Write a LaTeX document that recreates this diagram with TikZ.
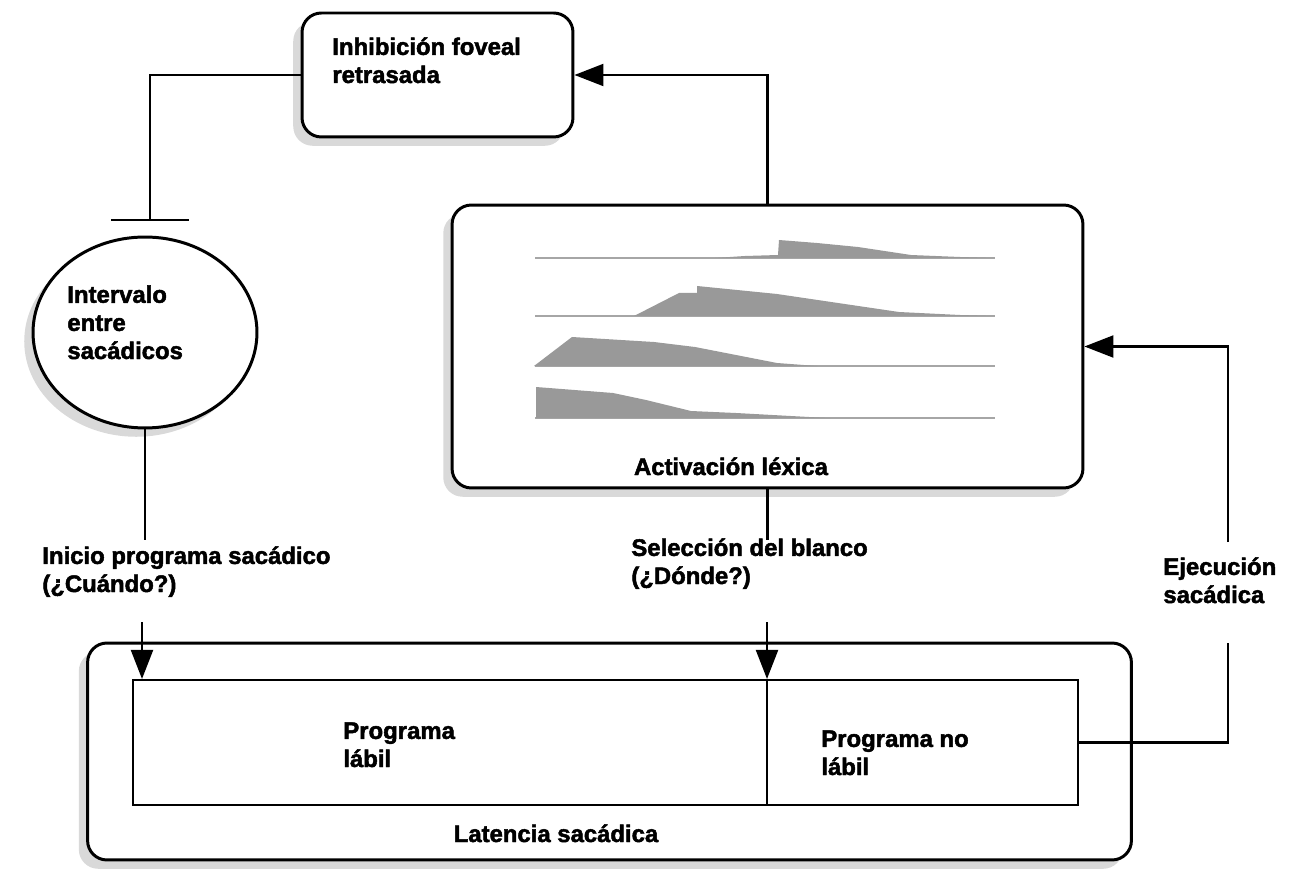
\documentclass[tikz,border=0pt]{standalone}
\usepackage{fontspec}
\setmainfont[BoldFeatures={FakeBold=2}]{Liberation Sans}
\usetikzlibrary{shapes.geometric,arrows.meta,shadows}

\tikzset{
  sombra/.style={drop shadow={shadow xshift=-5pt, shadow yshift=-5pt, opacity=.3}},
  caja/.style={draw, line width=1.7pt, rounded corners=11pt, fill=white, sombra},
  bloque/.style={draw, line width=1.2pt, inner sep=0pt, minimum height=2.5cm},
  rotulo/.style={font=\fontsize{13.6}{16}\selectfont\bfseries, align=left, inner sep=0pt, anchor=base west},
  linea/.style={line width=1.2pt},
  flecha/.style={linea, -{Triangle[length=0.58cm,width=0.44cm]}},
  nivel/.style={gray!70, line width=0.7pt},
  curva/.style={fill=gray!80, draw=none}
}

\begin{document}
\begin{tikzpicture}[x=0.02cm, y=-0.02cm]
    \useasboundingbox (0,0) rectangle (1293,874);

    % cajas
    \node[caja, minimum width=5.42cm, minimum height=2.48cm] (inhib) at (437.5,75) {};
    \node[rotulo] (inhibtxt) at (332,83) {Inhibición foveal\\retrasada};

    \node[draw, ellipse, line width=1.7pt, fill=white, sombra, minimum width=4.48cm, minimum height=3.82cm] (interv) at (145,332.5) {};
    \node[rotulo] (intervtxt) at (67,359) {Intervalo\\entre\\sacádicos};

    \node[caja, minimum width=12.62cm, minimum height=5.66cm] (activ) at (767.5,346.5) {};
    \node[rotulo, anchor=base] (activtxt) at (731,475) {Activación léxica};

    \node[caja, minimum width=20.88cm, minimum height=4.34cm] (laten) at (609.5,751.5) {};
    \node[bloque, minimum width=12.68cm] (labil) at (450,742.5) {};
    \node[bloque, minimum width=6.22cm] (nolabil) at (922.5,742.5) {};
    \node[rotulo] (labiltxt) at (343,767) {Programa\\lábil};
    \node[rotulo] (nolabiltxt) at (821,775) {Programa no\\lábil};
    \node[rotulo, anchor=base] (latentxt) at (556,842) {Latencia sacádica};

    % curvas de activacion
    \foreach \y in {258,316,366,418}
        \draw[nivel] (535,\y) -- (995,\y);
    \fill[curva] (715,258) -- (745,256) -- (778,255) -- (779,240) -- (817,243) -- (858,247) -- (911,255) -- (960,257) -- (994,258) -- cycle;
    \fill[curva] (634,316) -- (679,293) -- (697,293) -- (697,286) -- (777,294) -- (838,303) -- (899,312) -- (960,315) -- (994,316) -- cycle;
    \fill[curva] (534,366) -- (572,337) -- (654,342) -- (695,347) -- (736,355) -- (777,363) -- (817,366) -- cycle;
    \fill[curva] (536,418) -- (536,387) -- (613,393) -- (646,400) -- (691,411) -- (736,413) -- (809,417) -- (830,418) -- cycle;

    % rotulos de las conexiones
    \node[rotulo] (inicio) at (42,592) {Inicio programa sacádico\\(¿Cuándo?)};
    \node[rotulo] (selec) at (631,584) {Selección del blanco\\(¿Dónde?)};
    \node[rotulo] (ejec) at (1163,603) {Ejecución\\sacádica};

    \coordinate (barra) at (150,221);
    \coordinate (cuandofin) at (145,540);
    \coordinate (dondefin) at (767.5,540);
    \coordinate (cuando) at (142,622);
    \coordinate (donde) at (767,622);
    \coordinate (ejecabajo) at (1228,643);
    \coordinate (ejecarriba) at (1228,542);

    % conexiones
    \draw[flecha] (activ.north) |- (inhib.east);
    \draw[linea, -{Bar[width=1.56cm]}] (inhib.west) -| (barra);
    \draw[linea] (interv.south) -- (cuandofin);
    \draw[linea] (activ.south) -- (dondefin);
    \draw[flecha] (cuando) -- (cuando |- labil.north);
    \draw[flecha] (donde) -- (donde |- labil.north);
    \draw[linea] (nolabil.east) -| (ejecabajo);
    \draw[flecha] (ejecarriba) |- (activ.east);
\end{tikzpicture}
\end{document}
